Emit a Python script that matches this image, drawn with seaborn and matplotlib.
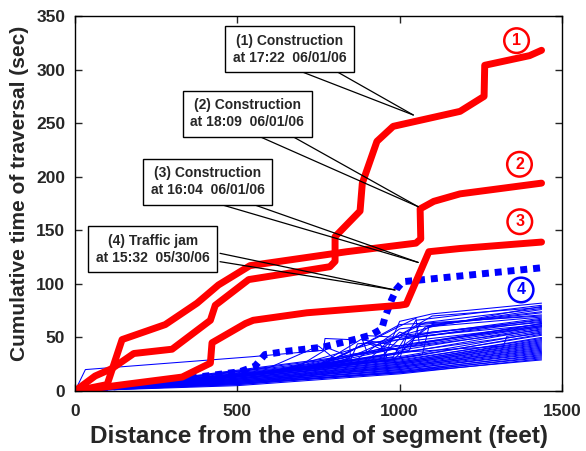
import matplotlib
matplotlib.use("Agg")
import matplotlib.pyplot as plt
import seaborn as sns
import pandas as pd

# ---------------- data ----------------
# red curves (construction events)
c1_x = [0, 62, 114, 181, 299, 417, 432, 535, 785, 801, 801, 878, 885, 930, 980, 1186, 1260, 1262, 1400, 1437]
c1_y = [0, 14, 21, 35, 39, 66, 80, 104, 116, 121, 144, 168, 194, 233, 247, 261, 275, 304, 313, 318]
c2_x = [0, 99, 145, 278, 376, 442, 539, 837, 1050, 1065, 1063, 1105, 1186, 1437]
c2_y = [0, 6, 48, 62, 82, 99, 117, 130, 138, 142, 170, 177, 184, 194]
c3_x = [0, 150, 330, 417, 422, 525, 549, 714, 1000, 1020, 1090, 1186, 1437]
c3_y = [0, 6, 13, 26, 45, 63, 66, 73, 80, 81, 130, 133, 139]
# blue dotted curve (traffic jam)
c4_x = [0, 250, 508, 554, 585, 650, 765, 860, 910, 945, 955, 975, 990, 1010, 1110, 1437]
c4_y = [0, 8, 18, 23, 34, 37, 41, 48, 52, 58, 69, 85, 95, 102, 105, 115]

# thin blue curves (normal traversals)
thin_x = [
    [0, 600, 950, 1000, 1100, 1437],
    [0, 620, 980, 1050, 1437],
    [0, 580, 900, 960, 1100, 1437],
    [0, 640, 1000, 1080, 1437],
    [0, 560, 870, 1000, 1437],
    [0, 700, 1030, 1060, 1437],
    [0, 650, 900, 880, 1000, 1437],
    [0, 600, 950, 1010, 1437],
    [0, 520, 960, 940, 1100, 1437],
    [0, 700, 1000, 1020, 1437],
    [0, 550, 850, 1050, 1437],
    [0, 620, 1000, 1437],
    [0, 600, 1000, 1320, 1330, 1437],
    [0, 680, 1020, 1437],
    [0, 500, 1000, 1437],
    [0, 500, 1000, 1437],
    [0, 500, 1000, 1437],
    [0, 500, 950, 1000, 1437],
    [0, 500, 1000, 1437],
    [0, 500, 1000, 1437],
    [0, 500, 1000, 1437],
    [0, 500, 1000, 1437],
    [0, 500, 1000, 1437],
    [0, 500, 1000, 1437],
    [0, 500, 1000, 1437],
    [0, 500, 1000, 1437],
    [0, 500, 1000, 1437],
    [0, 600, 750, 800, 900, 950, 1437],
    [0, 700, 780, 830, 1000, 1437],
    [0, 800, 1050, 1060, 1437],
    [0, 900, 1000, 1100, 1437],
    [0, 32, 545, 765, 770, 845, 848, 1437],
    [0, 450, 900, 1070, 1090, 1437],
    [0, 480, 980, 1040, 1437],
    [0, 500, 1000, 1437],
    [0, 500, 1000, 1437],
    [0, 500, 1000, 1437],
    [0, 500, 1000, 1437],
    [0, 500, 1000, 1437],
    [0, 500, 1000, 1437],
    [0, 500, 1000, 1437],
    [0, 500, 1000, 1437],
    [0, 500, 1000, 1437],
    [0, 500, 1000, 1437],
    [0, 500, 1000, 1437],
    [0, 650, 850, 870, 1000, 1437],
    [0, 700, 950, 1000, 1050, 1437],
    [0, 750, 880, 1000, 1437],
    [0, 820, 1000, 1080, 1437],
    [0, 600, 1100, 1437],
    [0, 550, 980, 1000, 1437],
    [0, 760, 900, 1000, 1437],
    [0, 680, 1060, 1437],
]
thin_y = [
    [0, 18, 30, 65, 72, 82],
    [0, 17, 32, 66, 80],
    [0, 16, 28, 45, 70, 78],
    [0, 19, 35, 60, 76],
    [0, 15, 30, 58, 73],
    [0, 20, 38, 62, 71],
    [0, 18, 36, 52, 50, 68],
    [0, 17, 34, 52, 66],
    [0, 14, 32, 44, 55, 64],
    [0, 21, 30, 50, 62],
    [0, 15, 34, 45, 60],
    [0, 18, 35, 58],
    [0, 17, 36, 42, 51, 56],
    [0, 19, 33, 55],
    [0, 13, 30, 53],
    [0, 12, 28, 50],
    [0, 12, 27, 48],
    [0, 11, 28, 26, 46],
    [0, 11, 25, 44],
    [0, 10, 24, 42],
    [0, 10, 23, 40],
    [0, 9, 22, 38],
    [0, 9, 21, 37],
    [0, 8, 20, 35],
    [0, 8, 19, 33],
    [0, 7, 18, 31],
    [0, 7, 17, 29],
    [0, 22, 42, 30, 45, 38, 60],
    [0, 25, 40, 34, 62, 70],
    [0, 30, 68, 45, 63],
    [0, 35, 40, 62, 74],
    [0, 20, 32, 38, 49, 48, 34, 57],
    [0, 12, 26, 34, 60, 69],
    [0, 13, 29, 47, 61],
    [0, 14, 31, 52],
    [0, 13, 29, 49],
    [0, 12, 27, 47],
    [0, 11, 26, 45],
    [0, 10, 25, 43],
    [0, 9, 23, 41],
    [0, 8, 22, 39],
    [0, 7, 20, 36],
    [0, 6, 18, 34],
    [0, 6, 17, 32],
    [0, 5, 16, 30],
    [0, 20, 30, 44, 48, 65],
    [0, 22, 40, 55, 50, 67],
    [0, 24, 48, 42, 61],
    [0, 28, 52, 64, 77],
    [0, 17, 60, 79],
    [0, 15, 40, 36, 54],
    [0, 25, 45, 38, 59],
    [0, 20, 44, 63],
]

# annotations: text, box centre, callout base points, tip
ann_text = ["(1) Construction\nat 17:22  06/01/06",
            "(2) Construction\nat 18:09  06/01/06",
            "(3) Construction\nat 16:04  06/01/06",
            "(4) Traffic jam\nat 15:32  05/30/06"]
ann_center = [(662, 319), (531, 258.7), (408, 195.4), (240, 132.4)]
ann_base = [[(698, 298), (801, 299)],
            [(564.6, 238), (667.5, 238)],
            [(436.5, 175.2), (539, 175.2)],
            [(446.6, 128.5), (446.6, 120.7)]]
ann_tip = [(1042, 257.6), (1057, 172), (1057, 120), (985.6, 94.3)]

circ_labels = ["1", "2", "3", "4"]
circ_pos = [(1360, 327), (1369, 211.6), (1370, 158), (1374, 94.3)]
circ_colors = ["red", "red", "red", "blue"]

# ---------------- plot ----------------
sns.set_style("ticks")
plt.rcParams["font.family"] = ["Liberation Sans", "DejaVu Sans"]
plt.rcParams["font.weight"] = "bold"

fig = plt.figure(figsize=(5.86, 4.51), dpi=100)
ax = fig.add_axes([75 / 586, 1 - 391 / 451, 487 / 586, 375 / 451])

rows = []
for i, (xs, ys) in enumerate(zip(thin_x, thin_y)):
    for j, (x, y) in enumerate(zip(xs, ys)):
        rows.append({"line": i, "order": j, "x": x, "y": y})
thin_df = pd.DataFrame(rows)
sns.lineplot(data=thin_df, x="x", y="y", units="line", estimator=None, sort=False,
             color="blue", lw=0.75, ax=ax, legend=False)

sns.lineplot(x=c4_x, y=c4_y, sort=False, estimator=None, color="blue", lw=5,
             linestyle=(0, (1, 0.85)), dash_capstyle="butt", ax=ax)

for cx, cy in [(c1_x, c1_y), (c2_x, c2_y), (c3_x, c3_y)]:
    sns.lineplot(x=cx, y=cy, sort=False, estimator=None, color="red", lw=5,
                 solid_joinstyle="round", ax=ax)

for txt, c, bases, tip in zip(ann_text, ann_center, ann_base, ann_tip):
    for b in bases:
        ax.plot([b[0], tip[0]], [b[1], tip[1]], color="black", lw=0.9, zorder=4)
    ax.text(c[0], c[1], txt, ha="center", va="center", fontsize=10, fontweight="bold",
            linespacing=1.25, zorder=6,
            bbox=dict(boxstyle="square,pad=0.55", facecolor="white", edgecolor="black", lw=1))

for lab, p, col in zip(circ_labels, circ_pos, circ_colors):
    ax.text(p[0], p[1], lab, ha="center", va="center", fontsize=11.5, fontweight="bold",
            color=col, zorder=6,
            bbox=dict(boxstyle="circle,pad=0.3", facecolor="white", edgecolor=col, lw=1.8))

ax.set_xlim(0, 1500)
ax.set_ylim(0, 350)
ax.set_xticks([0, 500, 1000, 1500])
ax.set_yticks([0, 50, 100, 150, 200, 250, 300, 350])
ax.tick_params(direction="in", top=True, right=True, length=5, width=1,
               labelsize=12.5)
ax.tick_params(axis="x", pad=9)
ax.tick_params(axis="y", pad=7)
for lab in ax.get_xticklabels() + ax.get_yticklabels():
    lab.set_fontweight("bold")
for s in ax.spines.values():
    s.set_visible(True)
    s.set_color("black")
    s.set_linewidth(1)
ax.set_xlabel("Distance from the end of segment (feet)", fontsize=17.5, fontweight="bold")
ax.xaxis.set_label_coords(0.5, -0.12)
ax.set_ylabel("Cumulative time of traversal (sec)", fontsize=15, fontweight="bold")
ax.yaxis.set_label_coords(-0.113, 0.527)
ax.yaxis.label.set_va("center")
ax.xaxis.label.set_va("center")

fig.savefig("out.png", dpi=100)
